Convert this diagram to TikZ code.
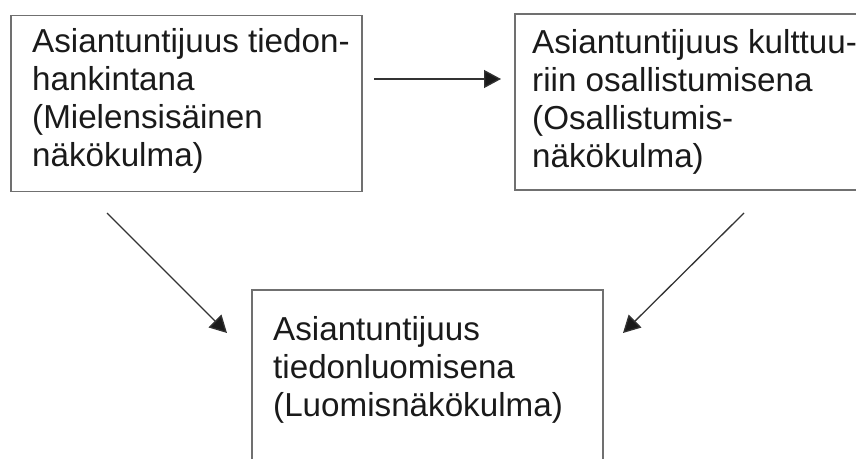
\documentclass[tikz,border=0pt]{standalone}
\usepackage{fontspec}
\setmainfont{Liberation Sans}
\usetikzlibrary{arrows.meta}
\definecolor{boxgray}{HTML}{707070}
\definecolor{linegray}{HTML}{333333}
\definecolor{txt}{HTML}{1A1A1A}
\begin{document}
\begin{tikzpicture}[x=1pt,y=-1pt,
  box/.style={draw=boxgray, line width=1.5pt, rectangle, anchor=north west, inner sep=0pt},
  lbl/.style={anchor=base west, align=left, inner sep=0pt, text=txt,
    font=\fontsize{33.2pt}{37.7pt}\selectfont},
  conn/.style={draw=linegray, line width=1.3pt,
    -{Triangle[length=17pt,width=18pt,fill=txt]}}]
\useasboundingbox (0,0) rectangle (856,458);
% boxes
\node[box, minimum width=351pt, minimum height=176pt] (L) at (10,14.5) {};
\node[box, minimum width=360pt, minimum height=176pt] (R) at (514,13) {};
\node[box, minimum width=351pt, minimum height=190pt] (B) at (251,289) {};
% texts (base anchor = baseline of the last line)
\node[lbl] (Lt) at (32,166) {Asiantuntijuus tiedon-\\hankintana\\(Mielensisäinen\\näkökulma)};
\node[lbl] (Rt) at (532,167) {Asiantuntijuus kulttuu-\\riin osallistumisena\\(Osallistumis-\\näkökulma)};
\node[lbl] (Bt) at (273,416) {Asiantuntijuus\\tiedonluomisena\\(Luomisnäkökulma)};
% connector ends
\coordinate (h1) at (374,79);
\coordinate (h2) at (501,79);
\coordinate (l1) at (107,213);
\coordinate (l2) at (227,333);
\coordinate (r1) at (744,213);
\coordinate (r2) at (623,333);
\draw[conn] (h1) -- (h2);
\draw[conn] (l1) -- (l2);
\draw[conn] (r1) -- (r2);
\end{tikzpicture}
\end{document}
